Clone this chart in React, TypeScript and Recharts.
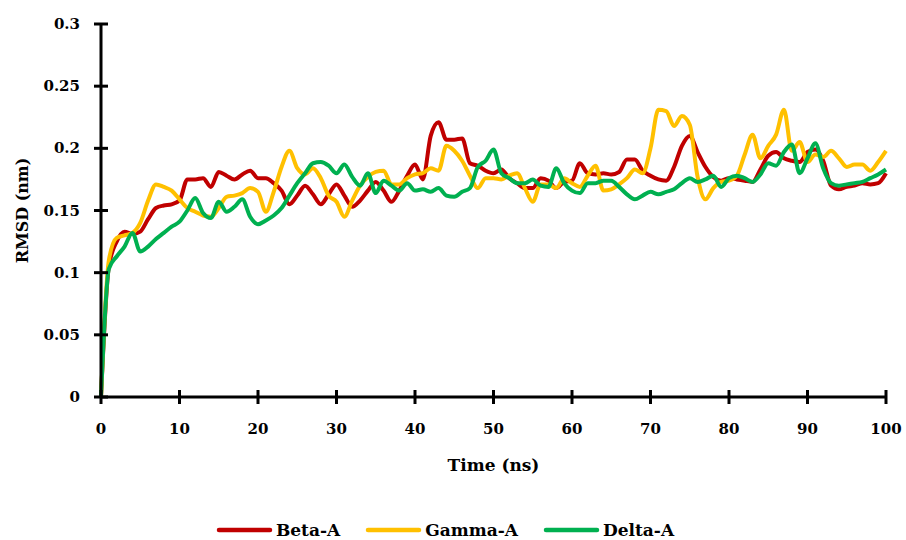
import { LineChart, Line, XAxis, YAxis, Legend } from 'recharts';

const time = [
  0, 1, 2, 3, 4, 5, 6, 7, 8, 9, 10, 11, 12, 13, 14, 15, 16, 17, 18, 19, 20,
  21, 22, 23, 24, 25, 26, 27, 28, 29, 30, 31, 32, 33, 34, 35, 36, 37, 38, 39, 40,
  41, 42, 43, 44, 45, 46, 47, 48, 49, 50, 51, 52, 53, 54, 55, 56, 57, 58, 59, 60,
  61, 62, 63, 64, 65, 66, 67, 68, 69, 70, 71, 72, 73, 74, 75, 76, 77, 78, 79, 80,
  81, 82, 83, 84, 85, 86, 87, 88, 89, 90, 91, 92, 93, 94, 95, 96, 97, 98, 99, 100,
];

const betaA = [
  0, 0.105, 0.125, 0.133, 0.131, 0.133, 0.143, 0.152, 0.154, 0.155, 0.158,
  0.175, 0.175, 0.176, 0.169, 0.181, 0.178, 0.175, 0.179, 0.182, 0.176,
  0.176, 0.172, 0.166, 0.155, 0.162, 0.17, 0.163, 0.155, 0.163, 0.171,
  0.162, 0.153, 0.158, 0.166, 0.173, 0.166, 0.157, 0.166, 0.178, 0.187,
  0.175, 0.21, 0.221, 0.207, 0.207, 0.208, 0.188, 0.186, 0.182, 0.18,
  0.183, 0.176, 0.172, 0.168, 0.168, 0.176, 0.174, 0.168, 0.173, 0.174,
  0.188, 0.18, 0.179, 0.18, 0.179, 0.181, 0.191, 0.191, 0.182, 0.178,
  0.175, 0.174, 0.185, 0.202, 0.21, 0.197, 0.185, 0.177, 0.174, 0.176,
  0.175, 0.174, 0.173, 0.183, 0.194, 0.197, 0.192, 0.19, 0.189, 0.197,
  0.199, 0.19, 0.17, 0.167, 0.169, 0.17, 0.172, 0.171, 0.172, 0.18,
];

const gammaA = [
  0, 0.11, 0.128, 0.13, 0.132, 0.14, 0.158, 0.171, 0.169, 0.166, 0.159,
  0.152, 0.149, 0.146, 0.145, 0.152, 0.161, 0.162, 0.164, 0.168, 0.165,
  0.149, 0.165, 0.185, 0.198, 0.184, 0.179, 0.184, 0.176, 0.162, 0.157,
  0.145, 0.158, 0.17, 0.177, 0.181, 0.182, 0.171, 0.171, 0.176, 0.179,
  0.18, 0.184, 0.182, 0.202, 0.198, 0.19, 0.178, 0.168, 0.176, 0.176,
  0.175, 0.178, 0.18, 0.168, 0.157, 0.171, 0.171, 0.168, 0.176, 0.172,
  0.169, 0.178, 0.186, 0.166, 0.167, 0.171, 0.176, 0.183, 0.18, 0.2,
  0.231, 0.23, 0.218, 0.226, 0.219, 0.177, 0.159, 0.168, 0.173, 0.174,
  0.178, 0.195, 0.211, 0.192, 0.202, 0.211, 0.231, 0.198, 0.205, 0.189,
  0.195, 0.193, 0.198, 0.192, 0.185, 0.187, 0.187, 0.182, 0.189, 0.198,
];

const deltaA = [
  0, 0.103, 0.113, 0.121, 0.132, 0.117, 0.121, 0.127, 0.132, 0.137, 0.141,
  0.15, 0.16, 0.148, 0.144, 0.157, 0.149, 0.153, 0.159, 0.145, 0.139,
  0.142, 0.146, 0.152, 0.162, 0.172, 0.18, 0.188, 0.189, 0.186, 0.18,
  0.187, 0.177, 0.17, 0.18, 0.164, 0.174, 0.17, 0.166, 0.172, 0.166,
  0.167, 0.165, 0.168, 0.162, 0.161, 0.165, 0.168, 0.185, 0.19, 0.199,
  0.18, 0.176, 0.172, 0.172, 0.175, 0.17, 0.169, 0.184, 0.172, 0.166,
  0.164, 0.172, 0.172, 0.174, 0.174, 0.169, 0.163, 0.159, 0.162, 0.165,
  0.163, 0.165, 0.167, 0.172, 0.176, 0.173, 0.175, 0.178, 0.169, 0.176,
  0.178, 0.176, 0.173, 0.179, 0.188, 0.186, 0.197, 0.203, 0.18, 0.192,
  0.204, 0.184, 0.172, 0.17, 0.171, 0.172, 0.173, 0.176, 0.179, 0.183,
];

const xTicks = [0, 10, 20, 30, 40, 50, 60, 70, 80, 90, 100];
const yTicks = [0, 0.05, 0.1, 0.15, 0.2, 0.25, 0.3];

const series = [
  { key: 'beta', name: 'Beta-A', color: '#C00000' },
  { key: 'gamma', name: 'Gamma-A', color: '#FFC000' },
  { key: 'delta', name: 'Delta-A', color: '#00B050' },
];

const data = time.map((t, i) => ({
  time: t,
  beta: betaA[i],
  gamma: gammaA[i],
  delta: deltaA[i],
}));

const FONT = '"DejaVu Serif", serif';

function YTick({ x, y, payload }: any) {
  return (
    <g>
      <line x1={x - 7} x2={x + 7} y1={y} y2={y} stroke="#000" strokeWidth={3} />
      <text x={x - 21} y={y} dy={5} textAnchor="end" fontFamily={FONT} fontWeight="bold" fontSize={15} fill="#000">
        {payload.value}
      </text>
    </g>
  );
}

function XTick({ x, y, payload }: any) {
  return (
    <g>
      <line x1={x} x2={x} y1={y - 7} y2={y + 7} stroke="#000" strokeWidth={3} />
      <text x={x} y={y} dy={37} textAnchor="middle" fontFamily={FONT} fontWeight="bold" fontSize={15} fill="#000">
        {payload.value}
      </text>
    </g>
  );
}

function LegendBox() {
  return (
    <div style={{ display: 'flex', justifyContent: 'center', alignItems: 'center', height: 20, gap: 25, paddingLeft: 4 }}>
      {series.map(s => (
        <div key={s.key} style={{ display: 'flex', alignItems: 'center', gap: 3 }}>
          <svg width={57} height={6}>
            <line x1={3} x2={54} y1={3} y2={3} stroke={s.color} strokeWidth={4.5} strokeLinecap="round" />
          </svg>
          <span style={{ fontFamily: FONT, fontWeight: 'bold', fontSize: 17, color: '#000' }}>{s.name}</span>
        </div>
      ))}
    </div>
  );
}

export default function App() {
  return (
    <div style={{ position: 'absolute', left: 0, top: 0, width: 906, height: 540, background: '#fff' }}>
      <LineChart width={906} height={540} data={data} margin={{ top: 24, right: 20, left: 0, bottom: 43 }}>
        <XAxis
          dataKey="time"
          type="number"
          domain={[0, 100]}
          ticks={xTicks}
          height={80}
          tickSize={0}
          tickMargin={0}
          tickLine={false}
          tick={<XTick />}
          axisLine={{ stroke: '#000', strokeWidth: 3 }}
          label={{ value: 'Time (ns)', position: 'insideBottom', offset: 6, fill: '#000', fontFamily: FONT, fontWeight: 'bold', fontSize: 17 }}
        />
        <YAxis
          type="number"
          domain={[0, 0.3]}
          ticks={yTicks}
          width={101}
          tickSize={0}
          tickMargin={0}
          tickLine={false}
          tick={<YTick />}
          axisLine={{ stroke: '#000', strokeWidth: 3 }}
          label={{ value: 'RMSD (nm)', angle: -90, position: 'insideLeft', offset: 22, fill: '#000', fontFamily: FONT, fontWeight: 'bold', fontSize: 16, style: { textAnchor: 'middle' } }}
        />
        <Legend verticalAlign="bottom" wrapperStyle={{ bottom: 0 }} content={<LegendBox />} />
        {series.map(s => (
          <Line
            key={s.key}
            type="monotone"
            dataKey={s.key}
            name={s.name}
            stroke={s.color}
            strokeWidth={4}
            dot={false}
            isAnimationActive={false}
          />
        ))}
      </LineChart>
    </div>
  );
}
